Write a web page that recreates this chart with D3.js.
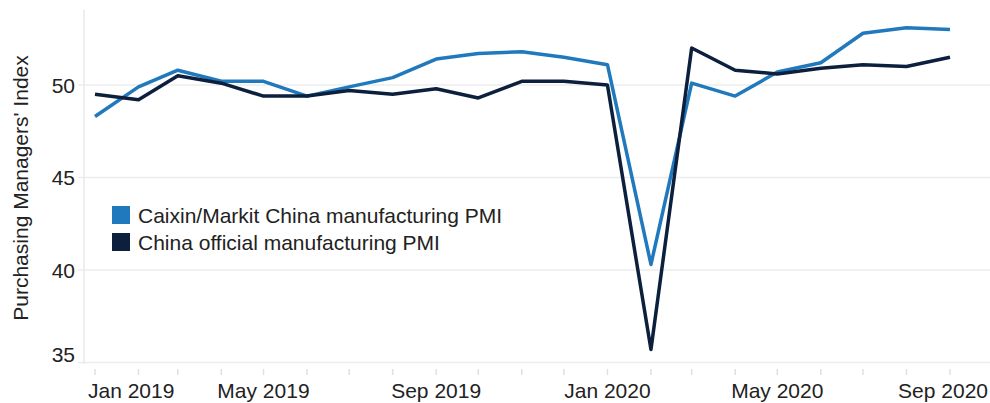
<!doctype html>
<html>
<head>
  <script src="https://d3js.org/d3.v7.min.js" charset="utf-8"></script>
  <style>
    body { margin: 0; background: #fff; }
    text { font-family: "Liberation Sans", Arial, sans-serif; fill: #222; }
  </style>
</head>
<body>
  <div id="viz">
  <script>
  // monthly data, Jan 2019 .. Sep 2020
  var months = ["2019-01","2019-02","2019-03","2019-04","2019-05","2019-06","2019-07",
                "2019-08","2019-09","2019-10","2019-11","2019-12","2020-01","2020-02",
                "2020-03","2020-04","2020-05","2020-06","2020-07","2020-08","2020-09"];
  var caixin = [48.3,49.9,50.8,50.2,50.2,49.4,49.9,50.4,51.4,51.7,51.8,51.5,51.1,40.3,
                50.1,49.4,50.7,51.2,52.8,53.1,53.0];
  var official = [49.5,49.2,50.5,50.1,49.4,49.4,49.7,49.5,49.8,49.3,50.2,50.2,50.0,35.7,
                  52.0,50.8,50.6,50.9,51.1,51.0,51.5];
  var yTicks = [35, 40, 45, 50];
  var xLabels = ["2019-01","2019-05","2019-09","2020-01","2020-05","2020-09"];
  var seriesNames = ["Caixin/Markit China manufacturing PMI", "China official manufacturing PMI"];
  var colors = ["#2179bd", "#0c1f3d"];

  var width = 990, height = 403;
  var parse = d3.timeParse("%Y-%m");
  var fmt = d3.timeFormat("%b %Y");

  var svg = d3.select("#viz").append("svg")
      .attr("width", width)
      .attr("height", height);

  // scales
  var x = d3.scaleTime()
      .domain([parse("2019-01"), parse("2020-09")])
      .range([95, 950]);
  var y = d3.scaleLinear().domain([35, 50]).range([362.5, 85]);
  var plotLeft = 84, plotTop = 10, plotBottom = 364;

  // gridlines
  svg.append("g").selectAll("line")
    .data(yTicks)
    .join("line")
      .attr("x1", 78).attr("x2", width)
      .attr("y1", d => y(d)).attr("y2", d => y(d))
      .style("stroke", "#ececec")
      .style("stroke-width", 1.5);

  // left axis line
  svg.append("line")
      .attr("x1", plotLeft).attr("x2", plotLeft)
      .attr("y1", plotTop).attr("y2", plotBottom)
      .style("stroke", "#e8e8e8")
      .style("stroke-width", 1.5);

  // y tick labels
  svg.append("g").selectAll("text")
    .data(yTicks)
    .join("text")
      .attr("x", 75)
      .attr("y", d => Math.min(y(d) + 7.5, 362))
      .attr("text-anchor", "end")
      .style("font-size", "21px")
      .text(d => d);

  // x ticks (every month)
  svg.append("g").selectAll("line")
    .data(months)
    .join("line")
      .attr("x1", d => x(parse(d))).attr("x2", d => x(parse(d)))
      .attr("y1", 369).attr("y2", 375)
      .style("stroke", "#e0e0e0")
      .style("stroke-width", 1.5);

  // x labels, kept inside the chart like the original
  svg.append("g").selectAll("text")
    .data(xLabels)
    .join("text")
      .attr("y", 398)
      .style("font-size", "21px")
      .text(d => fmt(parse(d)))
      .each(function(d) {
        var w = this.getComputedTextLength();
        var cx = x(parse(d)) - w / 2;
        cx = Math.max(cx, 88);
        cx = Math.min(cx, 988 - w);
        d3.select(this).attr("x", cx);
      });

  // y axis title
  svg.append("text")
      .attr("transform", "translate(28,188) rotate(-90)")
      .attr("text-anchor", "middle")
      .style("font-size", "21px")
      .text("Purchasing Managers' Index");

  // lines
  var line = d3.line()
      .x((d, i) => x(parse(months[i])))
      .y(d => y(d));

  [caixin, official].forEach(function(s, i) {
    svg.append("path")
        .datum(s)
        .attr("d", line)
        .style("fill", "none")
        .style("stroke", colors[i])
        .style("stroke-width", 3.5)
        .style("stroke-linejoin", "round");
  });

  // legend
  var legend = svg.append("g").attr("transform", "translate(112,206)");
  seriesNames.forEach(function(n, i) {
    legend.append("rect")
        .attr("x", 0).attr("y", i * 27)
        .attr("width", 18).attr("height", 18)
        .style("fill", colors[i]);
    legend.append("text")
        .attr("x", 26).attr("y", i * 27 + 16.5)
        .style("font-size", "21px")
        .text(n);
  });
  </script>
  </div>
</body>
</html>
